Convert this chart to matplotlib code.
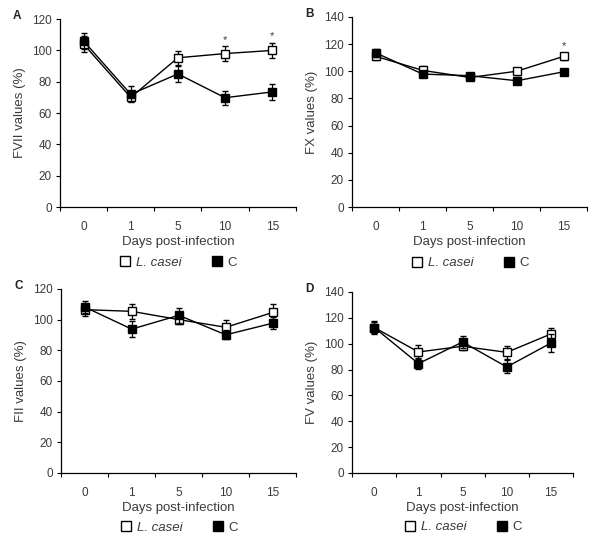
import matplotlib
matplotlib.use("Agg")
import matplotlib.pyplot as plt
from matplotlib.lines import Line2D
import numpy as np

plt.rcParams['font.family'] = ['Liberation Sans', 'DejaVu Sans']

days = ["0", "1", "5", "10", "15"]

# Panel A - FVII
fvii_lcasei = [104, 70, 95.3, 98, 100]
fvii_lcasei_err = [5, 2.5, 4.5, 4.7, 4.7]
fvii_c = [106, 72, 85, 69.8, 73.5]
fvii_c_err = [5, 5, 5, 4.5, 5]

# Panel B - FX
fx_lcasei = [111, 100.6, 95.4, 100, 111]
fx_lcasei_err = [2.5, 3, 2, 2.5, 2.5]
fx_c = [113.5, 97.9, 96.7, 93, 99.6]
fx_c_err = [3, 2.5, 2, 2, 2]

# Panel C - FII
fii_lcasei = [106.5, 105.4, 100, 95, 104.7]
fii_lcasei_err = [4, 5, 3, 5, 5.5]
fii_c = [108.2, 93.8, 102.8, 90.1, 97.7]
fii_c_err = [4, 5, 5, 3, 4]

# Panel D - FV
fv_lcasei = [112.5, 93.6, 98, 93.3, 107.5]
fv_lcasei_err = [5, 5.5, 3, 5, 5]
fv_c = [112.5, 84.6, 101.3, 82, 100.5]
fv_c_err = [4.5, 4.5, 5, 5, 7]

panels = [
    dict(letter="A", ylabel="FVII values (%)", ymax=120, l=fvii_lcasei, le=fvii_lcasei_err,
         c=fvii_c, ce=fvii_c_err, stars=[3, 4], rect=[0.100, 0.6243, 0.393, 0.341]),
    dict(letter="B", ylabel="FX values (%)", ymax=140, l=fx_lcasei, le=fx_lcasei_err,
         c=fx_c, ce=fx_c_err, stars=[4], rect=[0.587, 0.6243, 0.392, 0.345]),
    dict(letter="C", ylabel="FII values (%)", ymax=120, l=fii_lcasei, le=fii_lcasei_err,
         c=fii_c, ce=fii_c_err, stars=[], rect=[0.102, 0.1416, 0.392, 0.334]),
    dict(letter="D", ylabel="FV values (%)", ymax=140, l=fv_lcasei, le=fv_lcasei_err,
         c=fv_c, ce=fv_c_err, stars=[], rect=[0.587, 0.1416, 0.368, 0.3285]),
]

fig = plt.figure(figsize=(6.0, 5.51), dpi=100)
fig.patch.set_facecolor("white")
txtcol = "#3a3a3a"

for p in panels:
    ax = fig.add_axes(p["rect"])
    x = np.arange(len(days))
    ax.errorbar(x, p["l"], yerr=p["le"], color="black", lw=1.0, marker="s", ms=5.5,
                mfc="white", mec="black", mew=1.0, capsize=2.5, elinewidth=0.9,
                capthick=0.9, zorder=3)
    ax.errorbar(x, p["c"], yerr=p["ce"], color="black", lw=1.0, marker="s", ms=5.5,
                mfc="black", mec="black", mew=1.0, capsize=2.5, elinewidth=0.9,
                capthick=0.9, zorder=4)
    for i in p["stars"]:
        ax.text(i, p["l"][i] + p["le"][i] + 1.0, "*", ha="center", va="bottom",
                fontsize=8, color=txtcol)
    ax.set_xlim(-0.5, len(days) - 0.5)
    ax.set_ylim(0, p["ymax"])
    ax.set_yticks(np.arange(0, p["ymax"] + 1, 20))
    ax.set_xticks(np.arange(-0.5, len(days), 1.0))
    ax.set_xticklabels([])
    ax.set_xticks(x, minor=True)
    ax.set_xticklabels(days, minor=True)
    ax.tick_params(axis="x", which="minor", length=0, pad=10, labelsize=8.5, labelcolor=txtcol)
    ax.tick_params(axis="x", which="major", length=3, width=0.8, direction="out")
    ax.tick_params(axis="y", length=3, width=0.8, direction="out", labelsize=8.5,
                   labelcolor=txtcol, pad=3)
    for s in ["top", "right"]:
        ax.spines[s].set_visible(False)
    for s in ["left", "bottom"]:
        ax.spines[s].set_linewidth(0.9)
    ax.set_ylabel(p["ylabel"], fontsize=9.5, color=txtcol, labelpad=4)
    ax.set_xlabel("Days post-infection", fontsize=9.5, color=txtcol, labelpad=2)
    handles = [Line2D([], [], ls="none", marker="s", ms=7.5, mfc="white", mec="black", mew=1.0),
               Line2D([], [], ls="none", marker="s", ms=7.5, mfc="black", mec="black", mew=1.0)]
    leg = ax.legend(handles, ["L. casei", "C"], loc="upper center",
                    bbox_to_anchor=(0.5, -0.20), ncol=2, frameon=False,
                    fontsize=9.5, handletextpad=0.3, columnspacing=2.2,
                    handlelength=1.0)
    leg.get_texts()[0].set_style("italic")
    for t in leg.get_texts():
        t.set_color(txtcol)
    bb = p["rect"]
    fig.text(bb[0] - 0.078, bb[1] + bb[3] + 0.005, p["letter"], fontsize=8.5,
             fontweight="bold", ha="left", va="center", color="#222222")

fig.savefig("out.png", dpi=100)
